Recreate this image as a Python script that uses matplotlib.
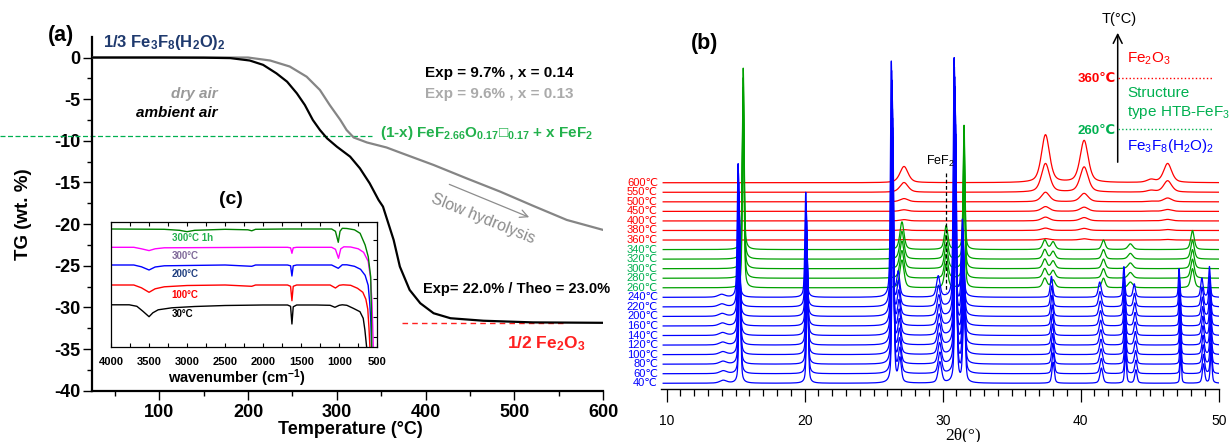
import matplotlib.pyplot as plt
import numpy as np
from matplotlib.lines import Line2D

W, H = 1229, 442

plt.rcParams["font.family"] = ["Liberation Sans", "DejaVu Sans"]
plt.rcParams["mathtext.fontset"] = "custom"
plt.rcParams["mathtext.rm"] = "Liberation Sans"
plt.rcParams["mathtext.it"] = "Liberation Sans:italic"
plt.rcParams["mathtext.bf"] = "Liberation Sans:bold"
plt.rcParams["mathtext.default"] = "rm"
plt.rcParams["axes.unicode_minus"] = False

# ---------------- (a) TG curves (temperature in °C, weight loss in wt.%)
amb_T = [25, 100, 150, 180, 202, 217, 232, 244, 255, 264, 273, 281, 289, 300,
         315, 326, 337, 347, 352, 364, 371, 382, 394, 409, 428, 465, 521, 600]
amb_w = [0, 0, -0.02, -0.07, -0.36, -0.88, -1.9, -2.9, -4.3, -5.7, -7.5, -8.7,
         -9.7, -10.7, -11.9, -13.3, -15.1, -17.1, -17.9, -21.9, -25.1, -27.9,
         -29.5, -30.7, -31.3, -31.6, -31.8, -31.85]
dry_T = [25, 100, 200, 225, 247, 266, 281, 292, 304, 311, 319, 334, 356, 371,
         409, 446, 484, 521, 559, 600]
dry_w = [0, 0, 0, -0.36, -1.08, -2.3, -3.9, -5.7, -7.5, -8.7, -9.6, -10.2,
         -10.8, -11.4, -12.9, -14.5, -16.1, -17.8, -19.5, -20.7]
plateau_w = -9.4
fe2o3_w = -31.9

# ---------------- (c) IR spectra (wavenumber, offset transmittance)
ir_labels = ["30°C", "100°C", "200°C", "300°C", "300°C 1h"]
ir_colors = ["black", "#ff0000", "#0000ff", "#ff00ff", "#008000"]
ir_label_colors = ["black", "#ff0000", "#1f3f80", "#806a9a", "#22b14c"]
ir_wn = [
    [4000, 3760, 3660, 3580, 3500, 3450, 3380, 3200, 2900, 2500, 2000, 1680, 1640,
     1622, 1605, 1560, 1300, 1120, 1057, 1000, 960, 900, 816, 728, 685, 663, 640],
    [4000, 3700, 3600, 3500, 3420, 3300, 3000, 2500, 2150, 2100, 1680, 1640, 1622,
     1605, 1560, 1120, 1050, 1000, 950, 850, 760, 690, 650, 625, 610, 597],
    [4000, 3700, 3600, 3500, 3420, 3300, 2500, 2150, 2100, 1680, 1640, 1622, 1605,
     1560, 1100, 1013, 960, 900, 800, 720, 660, 620, 600, 585, 575],
    [4000, 3700, 3600, 3500, 3420, 3300, 2000, 1680, 1640, 1622, 1605, 1560, 1100,
     1050, 1010, 980, 940, 850, 750, 680, 620, 590, 570, 560, 553],
    [4000, 3300, 3100, 3000, 2900, 2500, 2200, 2150, 2100, 1700, 1100, 1050, 1013,
     990, 960, 900, 800, 726, 660, 619, 587, 578, 574],
]
ir_val = [
    [42.5, 42.5, 41, 36, 30.6, 34.5, 37.5, 39.5, 40.8, 41.8, 42.3, 42.3, 41, 23.3,
     40.5, 42.3, 42.3, 42, 40, 42, 42.5, 42, 39, 35.6, 29, 17.3, 0],
    [62.3, 62.3, 59.5, 55, 58.5, 60.5, 61.8, 62.3, 61, 62.3, 62.3, 61, 46.6, 61,
     62.3, 62.3, 59.3, 62, 62.5, 62, 59, 55, 48, 38, 20, 0],
    [82.3, 82.3, 80.5, 77.3, 80.3, 81.5, 82.3, 81, 82.3, 82.3, 81.5, 71.3, 81.5,
     82.3, 82.3, 79, 82.5, 82.5, 81, 78, 72, 62, 45, 25, 0],
    [100, 100, 98.5, 96.7, 98.5, 99.5, 100, 100, 99.5, 94, 99.5, 100, 100, 98, 89,
     98.5, 100.5, 100.3, 98.5, 95, 86, 70, 45, 20, 0],
    [118.3, 118, 117, 115.6, 117, 118, 117.5, 116.5, 118, 118.3, 118.3, 116, 105,
     116, 119, 118.8, 117.5, 114, 102.3, 90.6, 70.6, 40, 0],
]
ir_label_y = [33, 52.3, 73, 91.6, 109.6]

# ---------------- (b) XRD peak tables (2theta, height in stack units, FWHM)
xrd_temps = [40, 60, 80, 100, 120, 140, 160, 200, 220, 240,
             260, 280, 300, 320, 340,
             360, 380, 400, 450, 500, 550, 600]
xrd_phase = ["hyd"] * 10 + ["htb"] * 5 + ["hem"] * 7
xrd_scale = [1] * 15 + [0.03, 0.05, 0.08, 0.1, 0.2, 0.6, 1.0]
# small peak shift of the hydrate pattern on heating (2theta, degrees)
xrd_shift = [0.0, 0.0, -0.02, -0.03, -0.04, -0.05, -0.06, -0.08, -0.10, -0.12,
             0, 0, 0, 0, 0, 0, 0, 0, 0, 0, 0, 0]

hyd_pos = [14.1, 15.3, 20.2, 26.4, 26.9, 29.8, 30.95, 31.55, 38.0, 41.5, 43.25,
           44.0, 47.25, 48.9, 49.45]
hyd_int = [0.3, 14, 11, 24.7, 2.5, 2.2, 25, 8, 2.2, 1.6, 3.2, 1.4, 3.0, 2.0, 3.2]
hyd_fwhm = [0.6, 0.15, 0.15, 0.15, 0.25, 0.3, 0.15, 0.2, 0.2, 0.25, 0.15, 0.2,
            0.12, 0.2, 0.15]
htb_pos = [15.55, 27.05, 30.25, 31.55, 37.4, 38.0, 41.65, 43.6, 48.1]
htb_int = [19, 2.9, 2.5, 13, 1.0, 0.8, 1.0, 0.6, 2.0]
htb_fwhm = [0.15, 0.35, 0.3, 0.15, 0.35, 0.35, 0.3, 0.4, 0.3]
hem_pos = [27.2, 37.45, 40.25, 45.1, 46.3]
hem_int = [1.7, 5.0, 4.4, 0.3, 2.0]
hem_fwhm = [0.7, 0.7, 0.7, 0.7, 0.7]

phase_peaks = {
    "hyd": (hyd_pos, hyd_int, hyd_fwhm),
    "htb": (htb_pos, htb_int, htb_fwhm),
    "hem": (hem_pos, hem_int, hem_fwhm),
}
phase_color = {"hyd": "#0000ff", "htb": "#00a000", "hem": "#ff0000"}
label_color = {"hyd": "#0000ff", "htb": "#00b050", "hem": "#ff0000"}


def fx(px):
    return px / W


def fy(py):
    return 1 - py / H


def pattern(x, pos, inten, fwhm, scale, shift):
    y = np.zeros_like(x)
    for c, h, w in zip(pos, inten, fwhm):
        c = c + shift
        g = np.exp(-4 * np.log(2) * ((x - c) / w) ** 2)
        lo = 1 / (1 + ((x - c) / (w / 2)) ** 2)
        y += scale * h * (0.5 * g + 0.5 * lo)
    return y


fig = plt.figure(figsize=(W / 100, H / 100), dpi=100)

# ======================= (a) TG
ax = fig.add_axes([fx(92), fy(390.7), fx(603.2 - 92), (390.7 - 36.7) / H])
ax.plot(dry_T, dry_w, color="#858585", lw=1.6, zorder=3)
ax.plot(amb_T, amb_w, color="black", lw=1.6, zorder=4)
ax.plot([-79, 340], [plateau_w, plateau_w], ls=(0, (4, 2)), color="#00b050",
        lw=0.9, clip_on=False)
ax.plot([373, 555], [fe2o3_w, fe2o3_w], ls=(0, (4, 3)), color="#ff2020", lw=1.0)
ax.set_xlim(24.3, 600)
ax.set_ylim(-40, 2.5)
for s in ["top", "right"]:
    ax.spines[s].set_visible(False)
for s in ["left", "bottom"]:
    ax.spines[s].set_linewidth(1.6)
ax.set_xticks(np.arange(100, 601, 100))
ax.set_xticks(np.arange(50, 600, 100), minor=True)
ax.set_yticks(np.arange(-40, 1, 5))
ax.set_yticks(np.arange(-37.5, 1, 5), minor=True)
ax.tick_params(which="major", direction="out", length=6.5, width=1.0, labelsize=13)
ax.tick_params(which="minor", direction="out", length=3.6, width=1.0)
ax.tick_params(axis="x", pad=3)
ax.tick_params(axis="y", pad=2)
for lbl in ax.get_xticklabels() + ax.get_yticklabels():
    lbl.set_fontweight("bold")

fig.text(fx(350), fy(430), "Temperature (°C)", ha="center", va="center",
         fontsize=13, fontweight="bold")
fig.text(fx(24), fy(214), "TG (wt. %)", ha="center", va="center", rotation=90,
         fontsize=13.5, fontweight="bold")
fig.text(fx(61), fy(36), "(a)", ha="center", va="center", fontsize=15.5,
         fontweight="bold")

ax.text(36.7, 1.77, r"1/3 Fe$_\mathbf{3}$F$_\mathbf{8}$(H$_\mathbf{2}$O)$_\mathbf{2}$",
        color="#1f3a6e", fontsize=12, fontweight="bold", ha="left", va="center")
ax.text(166, -4.4, "dry air", color="#999999", fontsize=11, fontweight="bold",
        style="italic", ha="right", va="center")
ax.text(166, -6.7, "ambient air", color="black", fontsize=11, fontweight="bold",
        style="italic", ha="right", va="center")
ax.text(399, -1.87, "Exp = 9.7% , x = 0.14", color="black", fontsize=11,
        fontweight="bold", ha="left", va="center")
ax.text(399, -4.4, "Exp = 9.6% , x = 0.13", color="#aaaaaa", fontsize=11,
        fontweight="bold", ha="left", va="center")
ax.text(348.6, -9.1,
        r"(1-x) FeF$_\mathbf{2.66}$O$_\mathbf{0.17}$□$_\mathbf{0.17}$ + x FeF$_\mathbf{2}$",
        color="#22b14c", fontsize=11, fontweight="bold", ha="left", va="center")
ax.text(181, -17.1, "(c)", fontsize=14, fontweight="bold", ha="center", va="center")
ax.text(465, -19.3, "Slow hydrolysis", color="#8c8c8c", fontsize=11.5,
        rotation=-22, ha="center", va="center", rotation_mode="anchor")
ax.annotate("", xy=(519.5, -19.3), xytext=(423.8, -15.1),
            arrowprops=dict(arrowstyle="->", color="#8c8c8c", lw=0.9,
                            mutation_scale=14))
ax.text(397.4, -27.8, "Exp= 22.0% / Theo = 23.0%", color="black", fontsize=10.5,
        fontweight="bold", ha="left", va="center")
ax.text(491.3, -34.3, r"1/2 Fe$_\mathbf{2}$O$_\mathbf{3}$", color="#ff2020",
        fontsize=12.5, fontweight="bold", ha="left", va="center")

# ======================= (c) IR inset
axi = fig.add_axes([fx(111), fy(347.3), fx(377.3 - 111), (347.3 - 221.7) / H])
for wn, val, c in zip(ir_wn, ir_val, ir_colors):
    axi.plot(wn, val, color=c, lw=1.0)
for lbl, ly, c in zip(ir_labels, ir_label_y, ir_label_colors):
    axi.text(3202, ly, lbl, color=c, fontsize=7, fontweight="bold",
             ha="left", va="center")
axi.set_xlim(4000, 500)
axi.set_ylim(0, 125.6)
axi.set_xticks(np.arange(500, 4001, 500))
axi.set_xticks(np.arange(750, 4000, 500), minor=True)
axi.set_yticks([10.6, 29.9, 49.2, 68.5, 87.8, 107.1])
axi.tick_params(axis="x", which="both", direction="in", top=True, bottom=True,
                length=3, width=0.8, labelsize=8, pad=7)
axi.tick_params(axis="y", direction="in", left=False, right=True,
                labelleft=False, length=3, width=0.8)
for s in axi.spines.values():
    s.set_linewidth(0.9)
for lbl in axi.get_xticklabels():
    lbl.set_fontweight("bold")
fig.text(fx(236.7), fy(378.3), r"wavenumber (cm$^\mathbf{-1}$)", ha="center",
         va="center", fontsize=10.5, fontweight="bold")

# ======================= (b) XRD
axr = fig.add_axes([fx(660.7), fy(389.3), fx(1218.7 - 660.7), (389.3 - 10) / H])
tt = np.linspace(9.75, 50.3, 6000)
for i in range(len(xrd_temps) - 1, -1, -1):
    ph = xrd_phase[i]
    pos, inten, fwhm = phase_peaks[ph]
    axr.plot(tt, i + pattern(tt, pos, inten, fwhm, xrd_scale[i], xrd_shift[i]),
             color=phase_color[ph], lw=0.9)
    axr.text(9.37, i, f"{xrd_temps[i]}℃", color=label_color[ph], fontsize=8,
             ha="right", va="center", clip_on=False)
axr.set_xlim(9.57, 50)
axr.set_ylim(-0.63, -0.63 + 379.3 / 9.55)
for s in ["left", "top", "right"]:
    axr.spines[s].set_visible(False)
axr.spines["bottom"].set_linewidth(1.0)
axr.set_yticks([])
axr.set_xticks(np.arange(10, 51, 10))
axr.set_xticks(np.arange(10, 51, 1), minor=True)
axr.tick_params(axis="x", which="major", direction="out", length=9.5, width=0.9,
                labelsize=10, pad=8)
axr.tick_params(axis="x", which="minor", direction="out", length=5, width=0.9)
fig.text(fx(963), fy(435), "2θ(°)", family="Liberation Serif", fontsize=12.5,
         ha="center", va="center")
fig.text(fx(705), fy(43), "(b)", fontsize=15.5, fontweight="bold", ha="center",
         va="center")

# FeF2 marker
axr.plot([30.22, 30.22], [22.05, 9.59], color="black", ls=(0, (3, 2)), lw=0.9)
fig.text(fx(940.5), fy(161.7), r"FeF$_2$", fontsize=9, ha="center", va="center")

# temperature scale on the right
axr.annotate("", xy=(fx(1117.7), fy(30)), xycoords="figure fraction",
             xytext=(fx(1117.7), fy(165)), textcoords="figure fraction",
             arrowprops=dict(arrowstyle="->", color="black", lw=1.1,
                             mutation_scale=16))
fig.text(fx(1119), fy(19), "T(°C)", fontsize=10.5, ha="center", va="center")
fig.add_artist(Line2D([fx(1118), fx(1211.7)], [fy(78.3), fy(78.3)],
                      transform=fig.transFigure, ls=":", color="#ff0000", lw=1.0))
fig.add_artist(Line2D([fx(1118), fx(1211.7)], [fy(129.3), fy(129.3)],
                      transform=fig.transFigure, ls=":", color="#00b050", lw=1.0))
fig.text(fx(1116), fy(79), "360℃", color="#ff0000", fontsize=9.5,
         fontweight="bold", ha="right", va="center")
fig.text(fx(1116), fy(131), "260℃", color="#00b050", fontsize=9.5,
         fontweight="bold", ha="right", va="center")
fig.text(fx(1127.3), fy(58.3), r"Fe$_2$O$_3$", color="#ff0000", fontsize=11,
         ha="left", va="center")
fig.text(fx(1127.3), fy(92.7), "Structure", color="#00b050", fontsize=11,
         ha="left", va="center")
fig.text(fx(1127.3), fy(112.7), r"type HTB-FeF$_3$", color="#00b050", fontsize=11,
         ha="left", va="center")
fig.text(fx(1127.3), fy(146), r"Fe$_3$F$_8$(H$_2$O)$_2$", color="#0000ff",
         fontsize=11, ha="left", va="center")

fig.savefig("out.png", dpi=100)
